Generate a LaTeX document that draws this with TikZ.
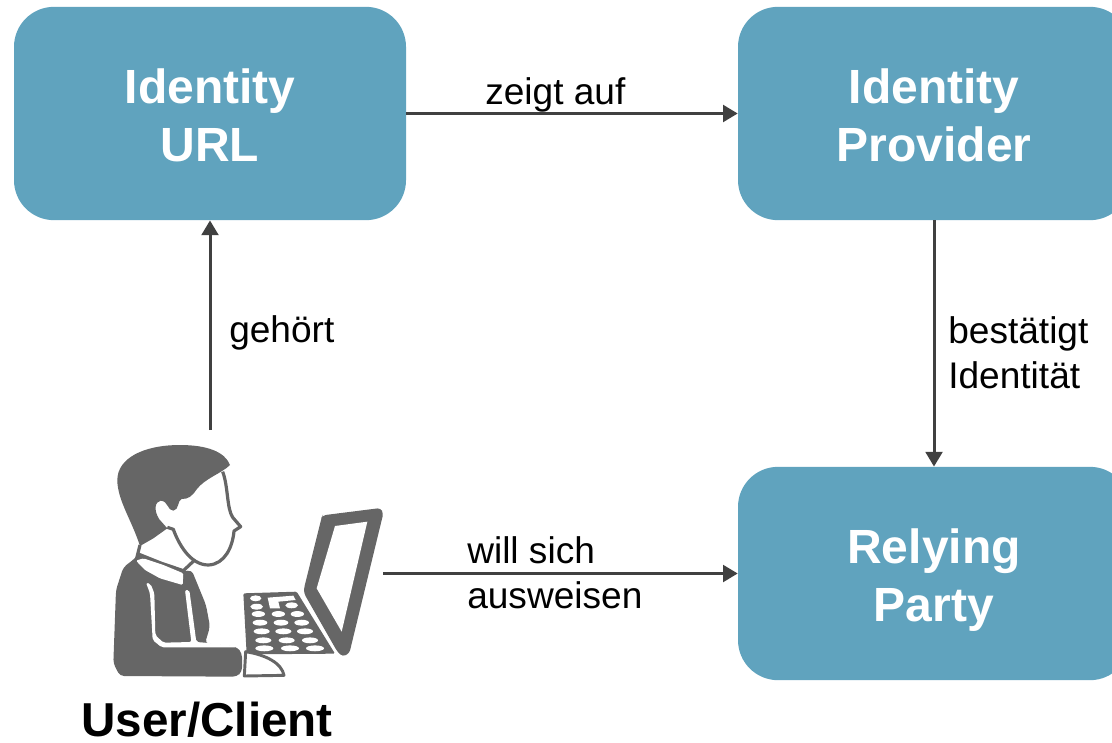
\documentclass[tikz,border=0pt]{standalone}
\usepackage{fontspec}
\setmainfont{Liberation Sans}
\usetikzlibrary{arrows.meta}
\definecolor{boxblue}{HTML}{60A3BE}
\definecolor{arrowgray}{HTML}{404040}
\definecolor{icongray}{HTML}{666666}

\begin{document}
\begin{tikzpicture}[x=0.75pt,y=-0.75pt,>={Triangle[length=11pt,width=12.5pt]},
    main node/.style={fill=boxblue,rounded corners=30pt,minimum width=294pt,minimum height=160pt,inner sep=0pt,align=center,text=white,text depth=0pt,font=\bfseries\fontsize{36}{43.5}\selectfont},
    label node/.style={inner sep=0pt,anchor=west,align=left,font=\fontsize{27.8}{33.75}\selectfont},
    link/.style={->,draw=arrowgray,line width=2.25pt}]

            \useasboundingbox (0,0) rectangle (1112,742);

            \node[main node] (url) at (210,113.5) {\rule{0pt}{28.5pt}Identity\\URL};
            \node[main node, node distance=543pt] (provider) [right of = url] {\rule{0pt}{28.5pt}Identity\\Provider};
            \node[main node, node distance=345pt] (party) [below of = provider] {\rule{0pt}{28.5pt}Relying\\Party};
            \node[inner sep=0pt, font=\bfseries\fontsize{35.7}{43}\selectfont] (user) at (207,720) {User/Client};

            \coordinate (head) at (210,430);
            \coordinate (laptop) at (383,573.5);

            \draw[link] (url) -- (provider);
            \draw[link] (head) -- (url);
            \draw[link] (provider) -- (party);
            \draw[link] (laptop) -- (party);

            \node[label node] (points) at (485,94.5) {zeigt auf};
            \node[label node] (belongs) at (229,333) {gehört};
            \node[label node] (confirms) at (948,352.5) {bestätigt\\Identität};
            \node[label node] (wants) at (467,573) {will sich\\ausweisen};

            % person and laptop
            \begin{scope}[shift={(90,430)},x=0.25pt,y=-0.25pt]
                % hair
                \fill[icongray] (150,348) .. controls (125,270) and (82,210) .. (82,150) .. controls (82,85) and (160,45) .. (270,45) .. controls (350,45) and (405,65) .. (420,105) .. controls (395,130) and (345,145) .. (320,178) .. controls (305,200) and (295,207) .. (275,207) .. controls (262,210) and (268,240) .. (250,242) .. controls (232,242) and (235,213) .. (212,212) .. controls (195,215) and (190,240) .. (208,268) -- (232,295) -- (190,325) -- cycle;
                % face
                \draw[icongray,line width=2.4pt,line join=round] (398,125) .. controls (415,170) and (410,235) .. (428,262) -- (452,290) -- (432,303) .. controls (428,350) and (405,403) .. (355,405) .. controls (300,405) and (265,340) .. (250,298) -- (232,292);
                % neck and collar
                \draw[icongray,line width=2.4pt] (150,345) -- (140,385);
                \draw[icongray,line width=2.4pt] (145,372) -- (215,400) -- (280,422) -- (312,392);
                % body
                \fill[icongray,rounded corners=3pt] (135,385) -- (100,412) -- (78,480) -- (70,700) -- (90,738) -- (440,740) -- (456,725) -- (456,670) -- (440,650) -- (345,640) -- (360,590) -- (348,525) -- (305,420) -- (278,425) -- (210,402) -- (145,372) -- cycle;
                \fill[white,rounded corners=1pt] (138,392) -- (160,385) -- (220,405) -- (280,430) -- (278,465) -- (210,445) -- (165,420) -- cycle;
                \fill[white,rounded corners=1.5pt] (168,458) -- (182,462) -- (193,490) -- (196,615) -- (220,638) -- (304,636) -- (285,480) -- (298,480) -- (319,636) -- (345,638) -- (440,648) -- (440,652) -- (215,652) -- (188,630) -- (180,490) -- cycle;
                % screen
                \fill[icongray,rounded corners=2.5pt] (698,256) -- (872,234) -- (880,250) -- (778,670) -- (758,680) -- (742,665) -- (642,490) -- (642,475) -- (695,262) -- cycle;
                \fill[white] (735,288) -- (832,275) -- (755,605) -- (680,475) -- cycle;
                % keyboard
                \fill[icongray,rounded corners=1pt] (460,490) -- (620,485) -- (735,671) -- (470,673) -- cycle;
                \foreach \keyx/\keyy/\keyr in {497/505/17,605/526/19,500/530/19,505/552/20,565/552/20,622/552/20,510/578/22,573/578/22,635/578/22,515/604/24,580/604/24,645/604/24,520/631/24,590/631/24,660/631/24,523/655/27,600/655/27,675/655/27}
                    \fill[white] (\keyx,\keyy) ellipse (\keyr*0.25pt and 2.2pt);
                \fill[white] (533,503) -- (610,497) -- (617,510) -- (565,515) -- (570,535) -- (540,535) -- cycle;
                % mouse
                \draw[icongray,fill=white,line width=2.2pt,line join=round] (467,665) .. controls (530,675) and (575,700) .. (582,736) -- (463,738) -- cycle;
            \end{scope}

        \end{tikzpicture}
\end{document}
